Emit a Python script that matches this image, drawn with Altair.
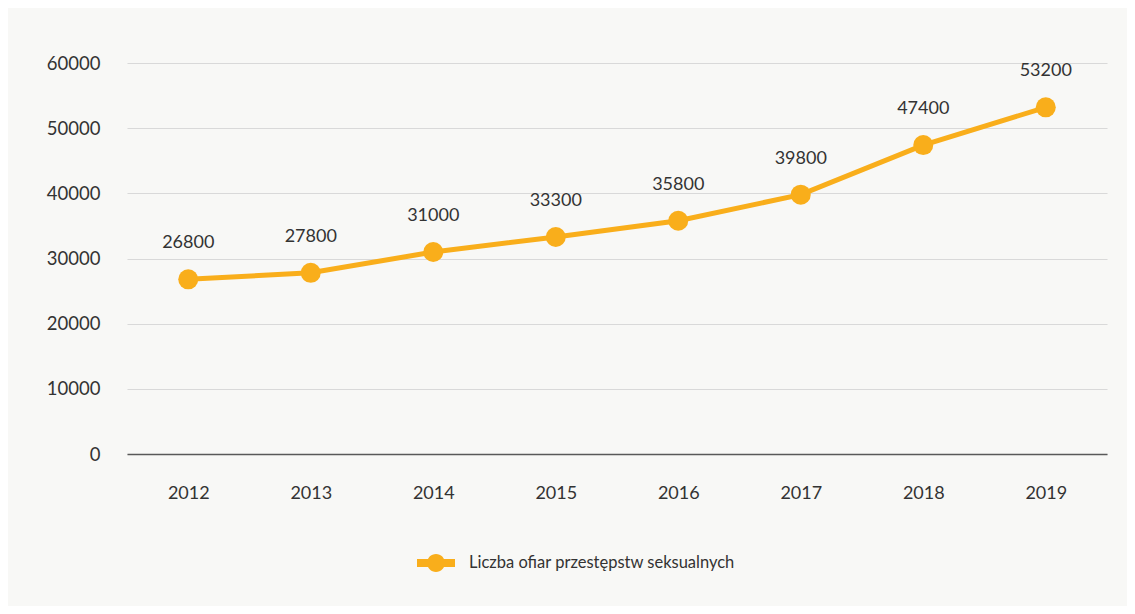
import altair as alt
import pandas as pd

years = ["2012", "2013", "2014", "2015", "2016", "2017", "2018", "2019"]
values = [26800, 27800, 31000, 33300, 35800, 39800, 47400, 53200]
series_name = "Liczba ofiar przestępstw seksualnych"
y_ticks = [0, 10000, 20000, 30000, 40000, 50000, 60000]

df = pd.DataFrame({"year": years, "value": values, "series": [series_name] * len(years)})

ORANGE = "#f9ae1b"
FONT = "Lato"
TXT = "#333333"

x = alt.X("year:O", title=None, sort=years,
          scale=alt.Scale(padding=0.5),
          axis=alt.Axis(labelAngle=0, ticks=False, domain=True, domainColor="#595959",
                        domainWidth=1.5, labelPadding=30, grid=False))
y = alt.Y("value:Q", title=None,
          scale=alt.Scale(domain=[0, 60000], nice=False),
          axis=alt.Axis(values=y_ticks, ticks=False, domain=False, grid=True,
                        gridColor="#d9d9d9", gridWidth=1, labelPadding=27, format="d",
                        labelFontSize=18.5))

color = alt.Color("series:N", title=None,
                  scale=alt.Scale(domain=[series_name], range=[ORANGE]),
                  legend=alt.Legend(orient="none", legendX=290, legendY=481,
                                    symbolType="M-1,-0.21L1,-0.21L1,0.21L-1,0.21Z M-0.47,0A0.47,0.47 0 1,1 0.47,0A0.47,0.47 0 1,1 -0.47,0Z",
                                    symbolSize=1444, symbolFillColor=ORANGE, symbolStrokeWidth=0,
                                    labelFont=FONT, labelFontSize=16.5, labelColor=TXT,
                                    labelOffset=14, labelLimit=500))

base = alt.Chart(df)

line = base.mark_line(strokeWidth=5, color=ORANGE).encode(x=x, y=y, color=color)
points = base.mark_circle(size=400, opacity=1, color=ORANGE).encode(
    x=x, y=y, color=alt.Color("series:N", scale=alt.Scale(domain=[series_name], range=[ORANGE]), legend=None))
labels = base.mark_text(dy=-36, fontSize=18, font=FONT, color=TXT).encode(
    x=x, y=y, text=alt.Text("value:Q", format="d"))

chart = alt.layer(line, points, labels).properties(
    width=980, height=391,
    background="#f8f8f6",
    padding={"left": 119, "top": 55, "right": 20, "bottom": 152},
    autosize=alt.AutoSizeParams(type="none"),
).configure_view(stroke=None).configure_axis(
    labelFont=FONT, labelFontSize=18, labelColor=TXT
)

chart.save("out.html", embed_options={"renderer": "svg", "actions": False})
